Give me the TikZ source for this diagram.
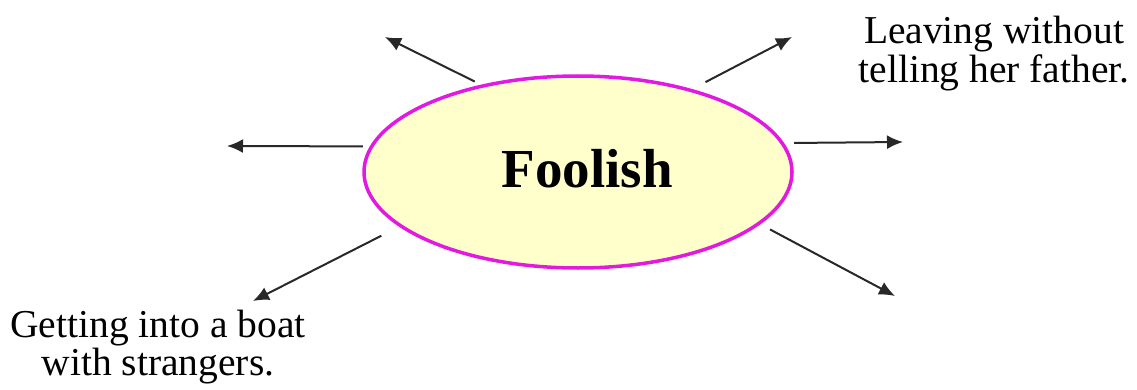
\documentclass[tikz,border=0pt]{standalone}
\usepackage{fontspec}
\setmainfont{Liberation Serif}
\usetikzlibrary{shapes.geometric,arrows.meta}
\definecolor{rim}{RGB}{225,25,225}
\definecolor{pale}{RGB}{255,255,204}
\definecolor{ink}{RGB}{40,40,40}
\begin{document}
\begin{tikzpicture}[x=1pt,y=1pt,
  blob/.style={ellipse,draw=rim,fill=pale,line width=3.5pt,minimum width=428pt,minimum height=192pt,inner sep=0pt},
  arr/.style={draw=ink,line width=2pt,-{Latex[length=16pt,width=14pt]}},
  lbl/.style={align=center,font=\fontsize{39.5}{38.5}\selectfont,inner sep=0pt}]
\useasboundingbox (0,0) rectangle (1137,389);
\node[blob] (f) at (578,217) {};
\node[font=\fontsize{55}{55}\selectfont\bfseries,inner sep=0pt] (ft) at (587,220) {Foolish};
\coordinate (h1) at (385,352);
\coordinate (h2) at (792,352);
\coordinate (h3) at (227,243);
\coordinate (h4) at (903,247);
\coordinate (h5) at (253,88);
\coordinate (h6) at (895,93);
\draw[arr,shorten <=7pt] (f.138.9) -- (h1);
\draw[arr,shorten <=15pt] (f.36.3) -- (h2);
\draw[arr,shorten <=7pt] (f.173.3) -- (h3);
\draw[arr,shorten <=10pt] (f.8.2) -- (h4);
\draw[arr,shorten <=20pt] (f.197.8) -- (h5);
\draw[arr,shorten <=11pt] (f.-16.4) -- (h6);
\node[lbl] (l1) at (994,335.5) {Leaving without\\telling her father.};
\node[lbl] (l2) at (158,42) {Getting into a boat\\with strangers.};
\end{tikzpicture}
\end{document}
